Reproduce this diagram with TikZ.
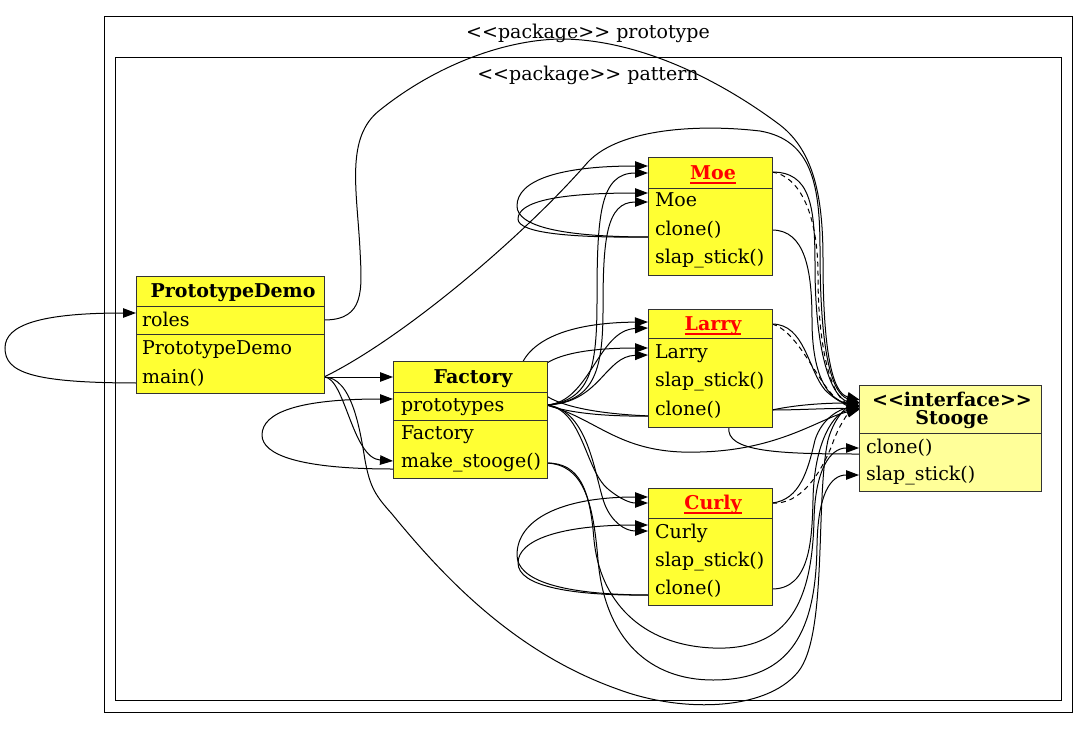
\documentclass[tikz,border=0pt]{standalone}
\usepackage{fontspec}
\setmainfont{DejaVu Serif}
\usetikzlibrary{arrows.meta}
\definecolor{clsyellow}{HTML}{FFFF33}
\definecolor{ifyellow}{HTML}{FFFF99}
\definecolor{bordergray}{HTML}{333333}
\newcommand\myll{<\kern0pt<}
\newcommand\mygg{>\kern0pt>}
\begin{document}
\begin{tikzpicture}[x=1pt,y=-1pt,
  every node/.style={font=\fontsize{19}{22}\selectfont, inner sep=0pt, outer sep=0pt},
  txt/.style={yshift=-3.5pt},
  clsbox/.style={draw=bordergray, line width=1pt, fill=clsyellow, rectangle},
  ifbox/.style={clsbox, fill=ifyellow},
  rowtxt/.style={txt, anchor=mid west},
  ttl/.style={txt, anchor=mid, font=\fontsize{19}{22}\selectfont\bfseries},
  redttl/.style={ttl, text=red},
  cluster/.style={draw=black, line width=1pt, rectangle},
  sep/.style={draw=bordergray, line width=1pt},
  conn/.style={draw=black, line width=1pt},
  arr/.style={conn, -{Triangle[length=13pt,width=9.5pt]}},
  dsh/.style={conn, dash pattern=on 5pt off 4pt},
  dsharr/.style={dsh, -{Triangle[length=13pt,width=9.5pt]}},
  ul/.style={draw=red, line width=1.4pt},
]
\useasboundingbox (0,0) rectangle (1089,728);
\fill[white] (0,0) rectangle (1089,728);

% clusters
\node[cluster, minimum width=968, minimum height=696] (pkgOuter) at (588,364) {};
\node[cluster, minimum width=946, minimum height=643] (pkgInner) at (588,378.5) {};
\node[txt] (lblOuter) at (588,30) {\myll package\mygg{} prototype};
\node[txt] (lblInner) at (588,72) {\myll package\mygg{} pattern};

% ports
\coordinate (pdRolesW) at (136,313);
\coordinate (pdRolesE) at (324,320);
\coordinate (pdMainW) at (139,383);
\coordinate (pdMainE) at (324,377);
\coordinate (fTitleW) at (393,377);
\coordinate (fProtoW) at (393,399);
\coordinate (fMakeW) at (393,461);
\coordinate (fMakeWs) at (393,469);
\coordinate (fProtoE) at (547,405);
\coordinate (fMakeE) at (547,463);
\coordinate (moeTW1) at (648,166);
\coordinate (moeTW2) at (648,173);
\coordinate (moeNW1) at (648,193);
\coordinate (moeNW2) at (648,202);
\coordinate (moeCW) at (651,237);
\coordinate (moeTE) at (772,172);
\coordinate (moeCE) at (772,230);
\coordinate (larTW1) at (648,322);
\coordinate (larTW2) at (648,328);
\coordinate (larNW1) at (648,348);
\coordinate (larNW2) at (648,355);
\coordinate (larCW) at (651,416);
\coordinate (larTE) at (772,324);
\coordinate (larCE) at (772,410);
\coordinate (larB) at (729,427);
\coordinate (curTW1) at (648,497);
\coordinate (curTW2) at (648,503);
\coordinate (curNW1) at (648,525);
\coordinate (curNW2) at (648,531);
\coordinate (curCW) at (651,595);
\coordinate (curTE) at (772,503);
\coordinate (curCE) at (772,589);
\coordinate (stT1) at (860,400);
\coordinate (stT2) at (860,403);
\coordinate (stT3) at (860,406);
\coordinate (stT4) at (860,409);
\coordinate (stC) at (859,448);
\coordinate (stS) at (859,475);
\coordinate (stCl) at (859,454);

% ---- edges ----
% main -> roles loop
\draw[arr] (pdMainW) .. controls (30,383) and (5,372) .. (5,348) .. controls (5,325) and (40,313) .. (pdRolesW);
% main -> Factory
\draw[arr] (pdMainE) -- (fTitleW);
% main -> make_stooge
\draw[arr] (pdMainE) .. controls (345,377) and (352,458) .. (fMakeW);
% make_stooge -> prototypes loop
\draw[arr] (fMakeWs) .. controls (300,469) and (262,455) .. (262,435) .. controls (262,412) and (300,399) .. (fProtoW);
% main -> Stooge via bottom
\draw[arr] (pdMainE) .. controls (352,377) and (360,430) .. (365,460) .. controls (370,488) and (376,496) .. (392,514) .. controls (450,585) and (520,655) .. (620,690) .. controls (680,712) and (765,712) .. (798,672) .. controls (828,635) and (815,500) .. (828,440) .. controls (835,415) and (848,407) .. (stT3);
% main -> Stooge via top
\draw[arr] (pdMainE) .. controls (400,340) and (520,240) .. (588,162) .. controls (620,128) and (700,124) .. (760,131) .. controls (812,140) and (820,185) .. (820,250) .. controls (820,345) and (830,393) .. (stT2);
% roles -> Stooge via very top
\draw[arr] (pdRolesE) .. controls (365,320) and (362,290) .. (360,250) .. controls (357,190) and (345,137) .. (380,110) .. controls (440,62) and (510,39) .. (563,39) .. controls (640,40) and (720,80) .. (780,125) .. controls (815,152) and (823,200) .. (823,260) .. controls (823,350) and (832,393) .. (stT1);

% Moe loops
\draw[arr] (moeCW) .. controls (560,237) and (517,226) .. (517,206) .. controls (517,180) and (560,166) .. (moeTW1);
\draw[arr] (moeCW) .. controls (570,238) and (518,233) .. (518,219) .. controls (518,201) and (560,193) .. (moeNW1);
% prototypes -> Moe
\draw[arr] (fProtoE) .. controls (590,400) and (597,370) .. (597,300) .. controls (597,215) and (600,173) .. (moeTW2);
\draw[arr] (fProtoE) .. controls (592,401) and (603,375) .. (603,310) .. controls (603,240) and (606,202) .. (moeNW2);
% Larry loops (behind Factory)
\draw[arr] (larCW) .. controls (590,417) and (530,410) .. (520,385) .. controls (514,365) and (530,323) .. (larTW1);
\draw[arr] (larCW) .. controls (595,414) and (545,405) .. (536,385) .. controls (531,362) and (565,348) .. (larNW1);
% prototypes -> Larry
\draw[arr] (fProtoE) .. controls (590,402) and (598,330) .. (larTW2);
\draw[arr] (fProtoE) .. controls (600,403) and (605,356) .. (larNW2);
% Curly loops
\draw[arr] (curCW) .. controls (560,595) and (517,580) .. (517,555) .. controls (517,520) and (560,497) .. (curTW1);
\draw[arr] (curCW) .. controls (570,596) and (518,586) .. (518,563) .. controls (518,540) and (560,525) .. (curNW1);
% prototypes -> Curly
\draw[arr] (fProtoE) .. controls (583,410) and (585,470) .. (608,489) .. controls (620,499) and (630,503) .. (curTW2);
\draw[arr] (fProtoE) .. controls (590,410) and (595,480) .. (605,505) .. controls (612,522) and (625,531) .. (curNW2);
% prototypes -> Stooge
\draw[arr] (fProtoE) .. controls (600,420) and (620,455) .. (700,452) .. controls (780,450) and (820,418) .. (stT4);

% Moe -> Stooge
\draw[arr] (moeTE) .. controls (810,172) and (815,205) .. (815,265) .. controls (815,350) and (830,396) .. (stT3);
\draw[dsharr] (moeTE) .. controls (800,176) and (818,215) .. (818,275) .. controls (818,355) and (833,398) .. (stT4);
\draw[arr] (moeCE) .. controls (805,230) and (812,270) .. (812,320) .. controls (812,380) and (830,400) .. (stT3);
% Larry -> Stooge
\draw[arr] (larTE) .. controls (805,324) and (808,370) .. (825,390) .. controls (835,400) and (845,404) .. (stT3);
\draw[dsharr] (larTE) .. controls (795,330) and (812,370) .. (830,392) .. controls (838,402) and (848,406) .. (stT4);
\draw[arr] (larCE) .. controls (800,404) and (830,403) .. (stT2);
\draw[arr] (larCE) .. controls (800,410) and (830,408) .. (stT4);
\draw[conn] (larB) .. controls (725,452) and (780,454) .. (stCl);
% Curly -> Stooge
\draw[arr] (curTE) .. controls (800,500) and (808,470) .. (815,440) .. controls (822,418) and (840,409) .. (stT3);
\draw[dsharr] (curTE) .. controls (800,505) and (820,475) .. (832,445) .. controls (840,422) and (850,412) .. (stT4);
\draw[arr] (curCE) .. controls (810,589) and (812,540) .. (813,500) .. controls (814,440) and (835,412) .. (stT4);
% make_stooge -> Stooge
\draw[arr] (fMakeE) .. controls (580,463) and (590,490) .. (594,540) .. controls (600,600) and (640,645) .. (713,648) .. controls (790,651) and (812,600) .. (814,520) .. controls (815,470) and (830,448) .. (stC);
\draw[arr] (fMakeE) .. controls (583,465) and (593,500) .. (598,560) .. controls (605,640) and (650,680) .. (713,680) .. controls (792,680) and (816,630) .. (817,545) .. controls (818,495) and (830,475) .. (stS);

% ---- class boxes ----
% PrototypeDemo
\node[clsbox, minimum width=188, minimum height=117] (pd) at (230,334.5) {};
\draw[sep] (pd.west |- 0,306) -- (pd.east |- 0,306);
\draw[sep] (pd.west |- 0,334) -- (pd.east |- 0,334);
\node[ttl] (pdTitle) at (233,291) {PrototypeDemo};
\node[rowtxt] (pdRoles) at (142,320) {roles};
\node[rowtxt] (pdCtor) at (142,348) {PrototypeDemo};
\node[rowtxt] (pdMain) at (142,377) {main()};

% Factory
\node[clsbox, minimum width=154, minimum height=117] (fac) at (470,419.5) {};
\draw[sep] (fac.west |- 0,392) -- (fac.east |- 0,392);
\draw[sep] (fac.west |- 0,420) -- (fac.east |- 0,420);
\node[ttl] (facTitle) at (473,377) {Factory};
\node[rowtxt] (facProto) at (401,405) {prototypes};
\node[rowtxt] (facCtor) at (401,433) {Factory};
\node[rowtxt] (facMake) at (401,461) {make\_stooge()};

% Moe
\node[clsbox, minimum width=124, minimum height=118] (moe) at (710,216) {};
\draw[sep] (moe.west |- 0,188) -- (moe.east |- 0,188);
\node[redttl] (moeTitle) at (713,173) {Moe};
\draw[ul] ([yshift=-4pt]moeTitle.base west) -- ([yshift=-4pt]moeTitle.base east);
\node[rowtxt] (moeName) at (655,200) {Moe};
\node[rowtxt] (moeClone) at (655,229) {clone()};
\node[rowtxt] (moeSlap) at (655,257) {slap\_stick()};

% Larry
\node[clsbox, minimum width=124, minimum height=118] (larry) at (710,368) {};
\draw[sep] (larry.west |- 0,338) -- (larry.east |- 0,338);
\node[redttl] (larTitle) at (713,324) {Larry};
\draw[ul] ([yshift=-4pt]larTitle.base west) -- ([yshift=-4pt]larTitle.base east);
\node[rowtxt] (larName) at (655,352) {Larry};
\node[rowtxt] (larSlap) at (655,380) {slap\_stick()};
\node[rowtxt] (larClone) at (655,409) {clone()};

% Curly
\node[clsbox, minimum width=124, minimum height=117] (curly) at (710,546.5) {};
\draw[sep] (curly.west |- 0,518) -- (curly.east |- 0,518);
\node[redttl] (curTitle) at (713,503) {Curly};
\draw[ul] ([yshift=-4pt]curTitle.base west) -- ([yshift=-4pt]curTitle.base east);
\node[rowtxt] (curName) at (655,532) {Curly};
\node[rowtxt] (curSlap) at (655,560) {slap\_stick()};
\node[rowtxt] (curClone) at (655,588) {clone()};

% Stooge
\node[ifbox, minimum width=182, minimum height=106] (stooge) at (950,438) {};
\draw[sep] (stooge.west |- 0,433) -- (stooge.east |- 0,433);
\node[ttl] (stIf) at (952,400) {\myll interface\mygg};
\node[ttl] (stName) at (952,418) {Stooge};
\node[rowtxt] (stClone) at (866,447) {clone()};
\node[rowtxt] (stSlap) at (866,474) {slap\_stick()};
\end{tikzpicture}
\end{document}
